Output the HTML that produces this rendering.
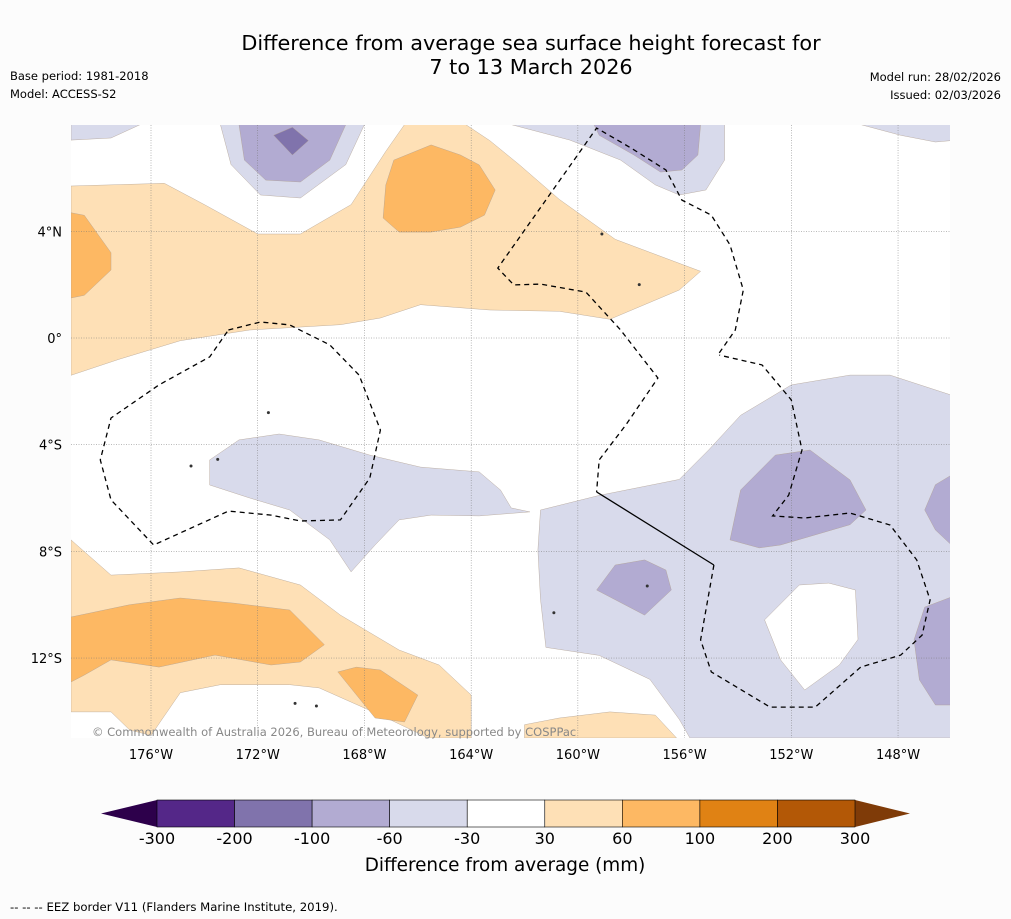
<!DOCTYPE html>
<html><head><meta charset="utf-8"><style>
body{margin:0;background:#fcfcfc;width:1011px;height:919px;overflow:hidden;font-family:"DejaVu Sans","Liberation Sans",sans-serif}
svg{display:block}
</style></head><body>
<svg id="s" width="1011" height="919" viewBox="0 0 1011 919" font-family="DejaVu Sans, Liberation Sans, sans-serif">
<rect width="1011" height="919" fill="#fcfcfc"/>
<text x="531" y="50" font-size="20.8" text-anchor="middle">Difference from average sea surface height forecast for</text>
<text x="531" y="74" font-size="20.8" text-anchor="middle">7 to 13 March 2026</text>
<text x="10" y="80" font-size="11.5">Base period: 1981-2018</text>
<text x="10" y="98" font-size="11.5">Model: ACCESS-S2</text>
<text x="1001" y="81" font-size="11.5" text-anchor="end">Model run: 28/02/2026</text>
<text x="1001" y="99" font-size="11.5" text-anchor="end">Issued: 02/03/2026</text>
<clipPath id="mc"><rect x="71" y="125" width="879" height="613"/></clipPath>
<rect x="71" y="125" width="879" height="613" fill="#fff"/>
<g id="fills" clip-path="url(#mc)"></g>
<g id="grid" clip-path="url(#mc)"></g>
<g id="eez" clip-path="url(#mc)"></g>
<g id="axes"></g>
<text x="92" y="736" font-size="11.5" fill="#888">© Commonwealth of Australia 2026, Bureau of Meteorology, supported by COSPPac</text>
<g id="cbar"></g>
<text x="505" y="871" font-size="18.4" text-anchor="middle">Difference from average (mm)</text>
<text x="10" y="911" font-size="11.7">--  --  -- EEZ border V11 (Flanders Marine Institute, 2019).</text>
</svg>
<script>
const lonTicks=[-176,-172,-168,-164,-160,-156,-152,-148];
const latTicks=[4,0,-4,-8,-12];
const cbLevels=[-300,-200,-100,-60,-30,30,60,100,200,300];
const cbColors=["#542788","#8073ac","#b2abd2","#d8daeb","#ffffff","#fee0b6","#fdb863","#e08214","#b35806"];
const C={lp:"#d8daeb",mp:"#b2abd2",dp:"#8073ac",lo:"#fee0b6",mo:"#fdb863"};
const contours=[
["orange-band-north","lo",[[-179,5.7],[-175.5,5.8],[-174,5],[-172,3.9],[-170.4,3.9],[-168.5,5],[-167.2,7],[-166.5,8],[-164.2,8],[-163.3,7.4],[-162.2,6.5],[-160.7,5.2],[-158.6,3.7],[-155.4,2.5],[-156.2,1.8],[-158.8,0.7],[-160.7,1],[-163.3,1.05],[-165.9,1.25],[-167.4,0.75],[-168.9,0.5],[-172.3,0.3],[-174.9,-0.1],[-177.2,-0.8],[-179,-1.4]]],
["orange-west","mo",[[-179,4.7],[-178.5,4.6],[-177.5,3.2],[-177.5,2.55],[-178.5,1.6],[-179,1.5]]],
["orange-north-core","mo",[[-166.9,6.67],[-165.5,7.24],[-164.4,6.86],[-163.7,6.49],[-163.1,5.55],[-163.5,4.61],[-164.4,4.16],[-165.5,3.97],[-166.7,3.97],[-167.3,4.5],[-167.2,5.74]]],
["purple-nw","lp",[[-173.4,8],[-173,6.5],[-171.9,5.36],[-170.4,5.25],[-168.7,6.5],[-168,8]]],
["purple-nw-core","mp",[[-172.7,8],[-172.5,6.67],[-171.7,5.92],[-170.4,5.85],[-169.3,6.67],[-168.7,8]]],
["purple-nw-peak","dp",[[-171.4,7.6],[-170.7,7.9],[-170.1,7.4],[-170.7,6.86]]],
["purple-corner-nw","lp",[[-179,8],[-176.4,8],[-177.5,7.5],[-179,7.42]]],
["purple-ne","lp",[[-162.5,8],[-154.5,8],[-154.5,6.67],[-155.2,5.55],[-156.2,5.36],[-157.1,5.74],[-158.4,6.67],[-160.3,7.42]]],
["purple-ne-core","mp",[[-159.4,8],[-155.4,8],[-155.5,6.86],[-156.1,6.3],[-156.9,6.22],[-157.9,6.86],[-159.2,7.6]]],
["purple-corner-ne","lp",[[-149.4,8],[-146,8],[-146,7.4],[-146.6,7.35],[-147.9,7.6]]],
["purple-se","lp",[[-161.4,-6.45],[-159.2,-5.9],[-156.2,-5.3],[-155.1,-4.2],[-153.9,-2.9],[-152,-1.76],[-149.8,-1.39],[-148.3,-1.39],[-146,-2.14],[-146,-15],[-155.8,-15],[-156.2,-14.3],[-157.3,-12.8],[-159.2,-11.9],[-161.2,-11.6],[-161.4,-9.8],[-161.5,-7.95]]],
["white-hole","w",[[-153,-10.57],[-151.7,-9.26],[-150.6,-9.19],[-149.6,-9.45],[-149.5,-11.3],[-150.2,-12.26],[-151.5,-13.2],[-152.4,-12.07]]],
["purple-se-core","mp",[[-154.3,-7.57],[-153.9,-5.7],[-152.6,-4.39],[-151.3,-4.2],[-149.8,-5.32],[-149.2,-6.45],[-149.8,-7],[-152.4,-7.76],[-153.2,-7.87]]],
["purple-s-core","mp",[[-159.3,-9.45],[-158.6,-8.51],[-157.5,-8.32],[-156.7,-8.7],[-156.5,-9.45],[-157.5,-10.39]]],
["purple-e-core","mp",[[-146,-5.14],[-146.6,-5.5],[-147,-6.45],[-146.6,-7.2],[-146,-7.76]]],
["purple-e-core-2","mp",[[-146,-9.71],[-147,-10.09],[-147.4,-11.32],[-147.2,-12.82],[-146.6,-13.76],[-146,-13.76]]],
["purple-band-mid","lp",[[-173.8,-4.57],[-172.7,-3.82],[-171.2,-3.6],[-169.7,-3.82],[-167.8,-4.39],[-165.9,-4.84],[-163.7,-5.02],[-162.9,-5.7],[-162.5,-6.37],[-161.8,-6.52],[-163.7,-6.67],[-165.5,-6.64],[-166.7,-6.82],[-167.6,-7.76],[-168.5,-8.77],[-169.3,-7.57],[-170.8,-6.45],[-172.3,-6],[-173.8,-5.51]]],
["orange-sw","lo",[[-179,-7.57],[-177.5,-8.89],[-174.9,-8.77],[-172.7,-8.62],[-170.4,-9.26],[-168.9,-10.39],[-166.7,-11.7],[-165.2,-12.26],[-164,-13.39],[-164,-15],[-165.6,-15],[-167.4,-14.14],[-169.7,-13.12],[-170.8,-13],[-173.4,-13],[-174.9,-13.3],[-176,-14.9],[-176.8,-14.7],[-177.5,-14.02],[-179,-14.02]]],
["orange-sw-core","mo",[[-179,-10.46],[-176.8,-10],[-174.9,-9.75],[-172.9,-9.94],[-170.8,-10.2],[-169.5,-11.5],[-170.4,-12.15],[-171.5,-12.26],[-173.6,-11.89],[-175.7,-12.34],[-177.5,-12.07],[-178.5,-12.64],[-179,-12.9]]],
["orange-s-core","mo",[[-169,-12.52],[-168.3,-12.34],[-167.4,-12.45],[-166,-13.39],[-166.5,-14.4],[-167.6,-14.25]]],
["orange-south","lo",[[-162,-14.5],[-160.7,-14.25],[-158.8,-14.02],[-157.1,-14.14],[-156.3,-15],[-162,-15]]]
];
const eezMain=[[-154.7,-0.56],[-154.1,0.3],[-153.8,1.8],[-154.3,3.49],[-155,4.61],[-156.1,5.17],[-156.7,6.3],[-158,7.12],[-159.3,7.87],[-163,2.62],[-162.4,1.99],[-161.4,2.02],[-159.7,1.72],[-158.4,0.3],[-157,-1.5],[-158.2,-3.26],[-159.2,-4.57],[-159.3,-5.77]];
const eezSolid=[[-159.3,-5.77],[-154.9,-8.51]];
const eezSouth=[[-154.9,-8.51],[-155.4,-11.32],[-155,-12.52],[-152.8,-13.84],[-151.1,-13.84],[-149.4,-12.34],[-147.9,-11.89],[-147.1,-11.14],[-146.8,-9.82],[-147.3,-8.32],[-148.3,-7.01],[-149.8,-6.56],[-151.5,-6.75],[-152.7,-6.67],[-152.1,-5.89],[-151.6,-4.2],[-152,-2.32],[-153.1,-1.01],[-154.7,-0.64]];
const eezWest=[[-173.1,0.3],[-171.9,0.6],[-170.8,0.49],[-169.3,-0.26],[-168.2,-1.39],[-167.4,-3.45],[-167.8,-5.25],[-168.9,-6.82],[-170.4,-6.86],[-171.5,-6.64],[-173.1,-6.49],[-175.9,-7.76],[-177.5,-6.07],[-177.9,-4.57],[-177.5,-3],[-175.7,-1.76],[-173.8,-0.71],[-173.1,0.3]];
const islands=[[-171.6,-2.8],[-173.5,-4.55],[-174.5,-4.8],[-157.7,2.0],[-159.1,3.9],[-170.6,-13.7],[-169.8,-13.8],[-157.4,-9.3],[-160.9,-10.3]];

const X=lon=>151+(lon+176)*26.68, Y=lat=>338-lat*26.67;
const NS="http://www.w3.org/2000/svg";
function mk(t,a,p){const e=document.createElementNS(NS,t);for(const k in a)e.setAttribute(k,a[k]);p.appendChild(e);return e;}
const pts=a=>a.map(p=>X(p[0]).toFixed(1)+","+Y(p[1]).toFixed(1)).join(" ");
const fills=document.getElementById("fills");
contours.forEach(c=>{
 const e=mk("polygon",{points:pts(c[2]),fill:c[1]=="w"?"#fff":C[c[1]],stroke:"#b0a090","stroke-width":"0.4"},fills);
 
 
});
islands.forEach(p=>{
 const e=mk("circle",{cx:X(p[0]),cy:Y(p[1]),r:1.5,fill:"#333"},fills);
 
 
});
const grid=document.getElementById("grid"),axes=document.getElementById("axes");
lonTicks.forEach(l=>{
 const g=mk("line",{x1:X(l),x2:X(l),y1:125,y2:738,stroke:"#777","stroke-width":"0.5","stroke-dasharray":"1,1.5"},grid);
 
 
 const t=mk("text",{x:X(l),y:759,"font-size":13,"text-anchor":"middle"},axes);t.textContent=(-l)+"°W";
 
 
});
latTicks.forEach(l=>{
 const g=mk("line",{x1:71,x2:950,y1:Y(l),y2:Y(l),stroke:"#777","stroke-width":"0.5","stroke-dasharray":"1,1.5"},grid);
 
 
 const t=mk("text",{x:62,y:Y(l)+5,"font-size":13,"text-anchor":"end"},axes);t.textContent=l==0?"0°":Math.abs(l)+"°"+(l>0?"N":"S");
 
 
});
const eez=document.getElementById("eez");
[eezMain,eezSouth,eezWest].forEach(a=>{
 const e=mk("polyline",{points:pts(a),fill:"none",stroke:"#000","stroke-width":"1.3","stroke-dasharray":"5,4"},eez);
 
 
});
const so=mk("polyline",{points:pts(eezSolid),fill:"none",stroke:"#000","stroke-width":"1.3"},eez);


const cb=document.getElementById("cbar"),x0=157,w=(855-157)/9,y0=800,h=27;
const tl=mk("polygon",{points:`101,${y0+h/2} ${x0},${y0} ${x0},${y0+h}`,fill:"#2d004b"},cb);


const tr=mk("polygon",{points:`910,${y0+h/2} 855,${y0} 855,${y0+h}`,fill:"#7f3b08"},cb);


cbColors.forEach((c,i)=>{
 const r=mk("rect",{x:x0+i*w,y:y0,width:w,height:h,fill:c,stroke:"#000","stroke-width":"0.6"},cb);
 
 
});
cbLevels.forEach((v,i)=>{
 const t=mk("text",{x:x0+i*w,y:844,"font-size":16,"text-anchor":"middle"},cb);t.textContent=v;
 
 
});
</script>
</body></html>
